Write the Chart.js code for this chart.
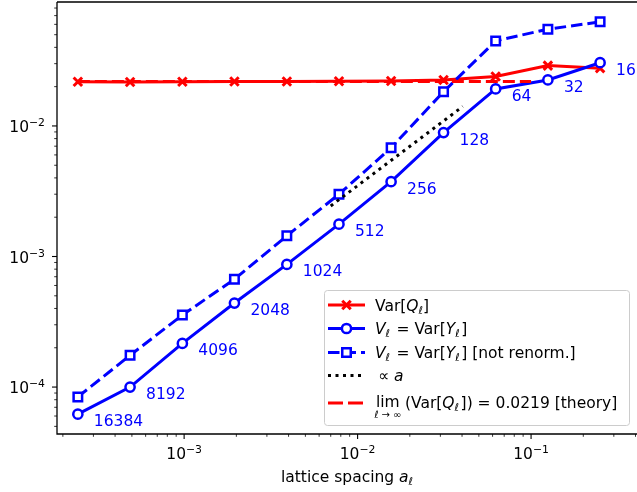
<!DOCTYPE html>
<html>
<head>
<meta charset="utf-8">
<script src="https://cdn.jsdelivr.net/npm/chart.js@4"></script>
<style>
  html, body { margin: 0; padding: 0; background: #fff; }
  #wrap { width: 637px; height: 492px; }
</style>
</head>
<body>
<div id="wrap"><canvas id="chart"></canvas></div>
<script>
// lattice spacing a_l of each level and the lattice size that labels it
const spacing = [0.000244, 0.000488, 0.000977, 0.00195, 0.00391, 0.00781, 0.0156, 0.0313, 0.0625, 0.125, 0.25];
const latticeSize = ["16384", "8192", "4096", "2048", "1024", "512", "256", "128", "64", "32", "16"];

// Var[Q_l]
const varQ = [0.0218, 0.0217, 0.0218, 0.0219, 0.0219, 0.0220, 0.0221, 0.0225, 0.0239, 0.0290, 0.0277];
// V_l = Var[Y_l]
const varY = [6.2e-5, 1.0e-4, 2.16e-4, 4.4e-4, 8.7e-4, 1.77e-3, 3.74e-3, 8.9e-3, 0.0192, 0.0225, 0.0305];
// V_l = Var[Y_l], not renormalised
const varYRaw = [8.4e-5, 1.75e-4, 3.56e-4, 6.7e-4, 1.44e-3, 3.0e-3, 6.8e-3, 0.0183, 0.0448, 0.0551, 0.0627];

// guide line proportional to a
const slopeX = [0.007, 0.0404];
const slopeY = [0.00244, 0.0141];

// theory limit 0.0219
const theoryX = [0.000244, 0.1];
const theoryY = [0.0219, 0.0219];

// tick labels: 10 raised to these exponents
const xTickValues = [1e-3, 1e-2, 1e-1];
const xTickExp = ["\u22123", "\u22122", "\u22121"];
const yTickValues = [1e-4, 1e-3, 1e-2];
const yTickExp = ["\u22124", "\u22123", "\u22122"];

const RED = "#ff0000";
const BLUE = "#0000ff";
const FONT = '"DejaVu Sans"';
const FS = 15.5;

function pairs(xs, ys) {
  return xs.map((x, i) => ({ x: x, y: ys[i] }));
}

// text with italic letters, subscripts and superscripts: parts are [text, style]
// style: "" normal, "i" italic, "s" italic subscript, "u" superscript
function partFont(s, size) {
  const small = s === "s" || s === "u";
  return (s === "i" || s === "s" ? "italic " : "") + (small ? size * 0.7 : size) + "px " + FONT;
}

function richWidth(ctx, parts, size) {
  let w = 0;
  for (const [t, s] of parts) {
    ctx.font = partFont(s, size);
    w += ctx.measureText(t).width;
  }
  return w;
}

function drawRich(ctx, parts, x, y, size) {
  let cx = x;
  ctx.textAlign = "left";
  ctx.textBaseline = "alphabetic";
  for (const [t, s] of parts) {
    ctx.font = partFont(s, size);
    let dy = 0;
    if (s === "s") dy = size * 0.22;
    if (s === "u") dy = -size * 0.37;
    ctx.fillText(t, cx, y + dy);
    cx += ctx.measureText(t).width;
  }
  return cx - x;
}

function drawMarker(ctx, style, x, y, r, color, lw) {
  ctx.save();
  ctx.setLineDash([]);
  ctx.strokeStyle = color;
  ctx.lineWidth = lw;
  ctx.fillStyle = "#fff";
  ctx.beginPath();
  if (style === "circle") {
    ctx.arc(x, y, r, 0, Math.PI * 2);
    ctx.fill();
  } else if (style === "rect") {
    const h = r * Math.SQRT1_2;
    ctx.rect(x - h, y - h, 2 * h, 2 * h);
    ctx.fill();
  } else {
    const h = r * Math.SQRT1_2;
    ctx.moveTo(x - h, y - h);
    ctx.lineTo(x + h, y + h);
    ctx.moveTo(x - h, y + h);
    ctx.lineTo(x + h, y - h);
  }
  ctx.stroke();
  ctx.restore();
}

// fixed axis sizes so the plot box matches the original figure
function fixBox(width, height) {
  return (s) => {
    if (width) s.width = width;
    if (height) s.height = height;
    s.paddingLeft = 0;
    s.paddingRight = 0;
    s.paddingTop = 0;
    s.paddingBottom = 0;
  };
}

// axes frame, ticks, tick labels, point annotations, axis title and legend
const decorations = {
  id: "decorations",
  afterDatasetsDraw(chart) {
    const ctx = chart.ctx;
    const meta = chart.getDatasetMeta(1);
    ctx.save();
    ctx.fillStyle = BLUE;
    ctx.font = FS + "px " + FONT;
    ctx.textAlign = "left";
    ctx.textBaseline = "middle";
    meta.data.forEach((pt, i) => {
      ctx.fillText(latticeSize[i], pt.x + 16, pt.y + 8);
    });
    ctx.restore();
  },
  afterDraw(chart) {
    const ctx = chart.ctx;
    const area = chart.chartArea;
    const xs = chart.scales.x;
    const ys = chart.scales.y;
    ctx.save();

    // spines
    ctx.strokeStyle = "#000";
    ctx.lineWidth = 1.3;
    ctx.beginPath();
    ctx.moveTo(area.left, area.top);
    ctx.lineTo(area.right, area.top);
    ctx.moveTo(area.left, area.top);
    ctx.lineTo(area.left, area.bottom);
    ctx.lineTo(area.right, area.bottom);
    ctx.stroke();

    // tick marks, majors at powers of ten
    function eachTick(scale, fn) {
      for (let e = Math.floor(Math.log10(scale.min)); e <= Math.ceil(Math.log10(scale.max)); e++) {
        for (let m = 1; m < 10; m++) {
          const v = m * Math.pow(10, e);
          if (v >= scale.min && v <= scale.max) fn(scale.getPixelForValue(v), m === 1);
        }
      }
    }
    eachTick(xs, (px, major) => {
      ctx.lineWidth = major ? 1.1 : 0.8;
      ctx.beginPath();
      ctx.moveTo(px, area.bottom);
      ctx.lineTo(px, area.bottom + (major ? 5 : 2.8));
      ctx.stroke();
    });
    eachTick(ys, (py, major) => {
      ctx.lineWidth = major ? 1.1 : 0.8;
      ctx.beginPath();
      ctx.moveTo(area.left, py);
      ctx.lineTo(area.left - (major ? 5 : 2.8), py);
      ctx.stroke();
    });

    // tick labels
    ctx.fillStyle = "#000";
    xTickValues.forEach((v, i) => {
      const parts = [["10", ""], [xTickExp[i], "u"]];
      const w = richWidth(ctx, parts, FS);
      drawRich(ctx, parts, xs.getPixelForValue(v) - w / 2, 459, FS);
    });
    yTickValues.forEach((v, i) => {
      const parts = [["10", ""], [yTickExp[i], "u"]];
      const w = richWidth(ctx, parts, FS);
      drawRich(ctx, parts, 45 - w, ys.getPixelForValue(v) + 6, FS);
    });

    // x axis title
    const title = [["lattice spacing ", ""], ["a", "i"], ["\u2113", "s"]];
    const tw = richWidth(ctx, title, FS);
    drawRich(ctx, title, (area.left + area.right) / 2 - tw / 2, 482, FS);

    // legend
    const lx = 324.5, ly = 290.5, lw = 305, lh = 135;
    ctx.beginPath();
    ctx.roundRect(lx, ly, lw, lh, 3);
    ctx.fillStyle = "rgba(255,255,255,0.8)";
    ctx.fill();
    ctx.strokeStyle = "#cccccc";
    ctx.lineWidth = 1;
    ctx.stroke();

    const h0 = 328, h1 = 365, tx = 375;
    const vPart = [["V", "i"], ["\u2113", "s"], ["\u200A = ", ""], ["Var[", ""], ["Y", "i"], ["\u2113", "s"], ["\u200A]", ""]];
    const rows = [
      { y: 305, color: RED, dash: [], marker: "cross", r: 6, mlw: 3,
        text: [["Var[", ""], ["Q", "i"], ["\u2113", "s"], ["]", ""]] },
      { y: 328.5, color: BLUE, dash: [], marker: "circle", r: 4.6, mlw: 2.5, text: vPart },
      { y: 352.5, color: BLUE, dash: [11.5, 5], marker: "rect", r: 6, mlw: 2.5,
        text: vPart.concat([[" [not renorm.]", ""]]) },
      { y: 375.5, color: "#000", dash: [3, 4.5], marker: null, text: [["\u2009\u221D ", ""], ["a", "i"]] },
      { y: 403, color: RED, dash: [15, 5], marker: null, text: null }
    ];
    rows.forEach((row) => {
      ctx.save();
      ctx.strokeStyle = row.color;
      ctx.lineWidth = 3;
      ctx.setLineDash(row.dash);
      ctx.beginPath();
      ctx.moveTo(h0, row.y);
      ctx.lineTo(h1, row.y);
      ctx.stroke();
      ctx.restore();
      if (row.marker) drawMarker(ctx, row.marker, (h0 + h1) / 2, row.y, row.r, row.color, row.mlw);
      ctx.fillStyle = "#000";
      if (row.text) drawRich(ctx, row.text, tx, row.y + 5.5, FS);
    });

    // lim row
    ctx.fillStyle = "#000";
    ctx.font = FS + "px " + FONT;
    ctx.textAlign = "left";
    ctx.textBaseline = "alphabetic";
    ctx.fillText("lim", tx + 1, 407);
    const limW = ctx.measureText("lim").width;
    const under = [["\u2113", "i"], [" \u2192 \u221E", ""]];
    const uw = richWidth(ctx, under, 10);
    drawRich(ctx, under, tx + 1 + limW / 2 - uw / 2, 417.5, 10);
    drawRich(ctx, [["(Var[", ""], ["Q", "i"], ["\u2113", "s"], ["\u200A]) = 0.0219 [theory]", ""]],
      405, 407.5, FS);

    ctx.restore();
  }
};

new Chart(document.getElementById("chart"), {
  type: "line",
  data: {
    datasets: [
      {
        label: "Var[Q]",
        data: pairs(spacing, varQ),
        borderColor: RED,
        borderWidth: 3,
        pointStyle: "crossRot",
        pointRadius: 6,
        pointBorderWidth: 3,
        pointBorderColor: RED,
        order: 5
      },
      {
        label: "V = Var[Y]",
        data: pairs(spacing, varY),
        borderColor: BLUE,
        borderWidth: 3,
        pointStyle: "circle",
        pointRadius: 4.6,
        pointBorderWidth: 2.5,
        pointBorderColor: BLUE,
        pointBackgroundColor: "#fff",
        order: 4
      },
      {
        label: "V = Var[Y] [not renorm.]",
        data: pairs(spacing, varYRaw),
        borderColor: BLUE,
        borderWidth: 3,
        borderDash: [11.5, 5],
        pointStyle: "rect",
        pointRadius: 6,
        pointBorderWidth: 2.5,
        pointBorderColor: BLUE,
        pointBackgroundColor: "#fff",
        order: 3
      },
      {
        label: "\u221D a",
        data: pairs(slopeX, slopeY),
        borderColor: "#000",
        borderWidth: 3,
        borderDash: [3, 4.5],
        pointRadius: 0,
        order: 2
      },
      {
        label: "theory",
        data: pairs(theoryX, theoryY),
        borderColor: RED,
        borderWidth: 3,
        borderDash: [12, 5],
        pointRadius: 0,
        order: 1
      }
    ]
  },
  options: {
    responsive: true,
    maintainAspectRatio: false,
    animation: false,
    events: [],
    layout: { autoPadding: false, padding: { top: 2, right: 0, left: 0, bottom: 0 } },
    elements: { line: { tension: 0 } },
    plugins: { legend: { display: false }, tooltip: { enabled: false } },
    scales: {
      x: {
        type: "logarithmic",
        min: 1.85e-4,
        max: 0.408,
        afterFit: fixBox(0, 58),
        grid: { display: false },
        border: { display: false },
        ticks: { display: false }
      },
      y: {
        type: "logarithmic",
        min: 4.37e-5,
        max: 0.089,
        afterFit: fixBox(57, 0),
        grid: { display: false },
        border: { display: false },
        ticks: { display: false }
      }
    }
  },
  plugins: [decorations]
});
</script>
</body>
</html>
